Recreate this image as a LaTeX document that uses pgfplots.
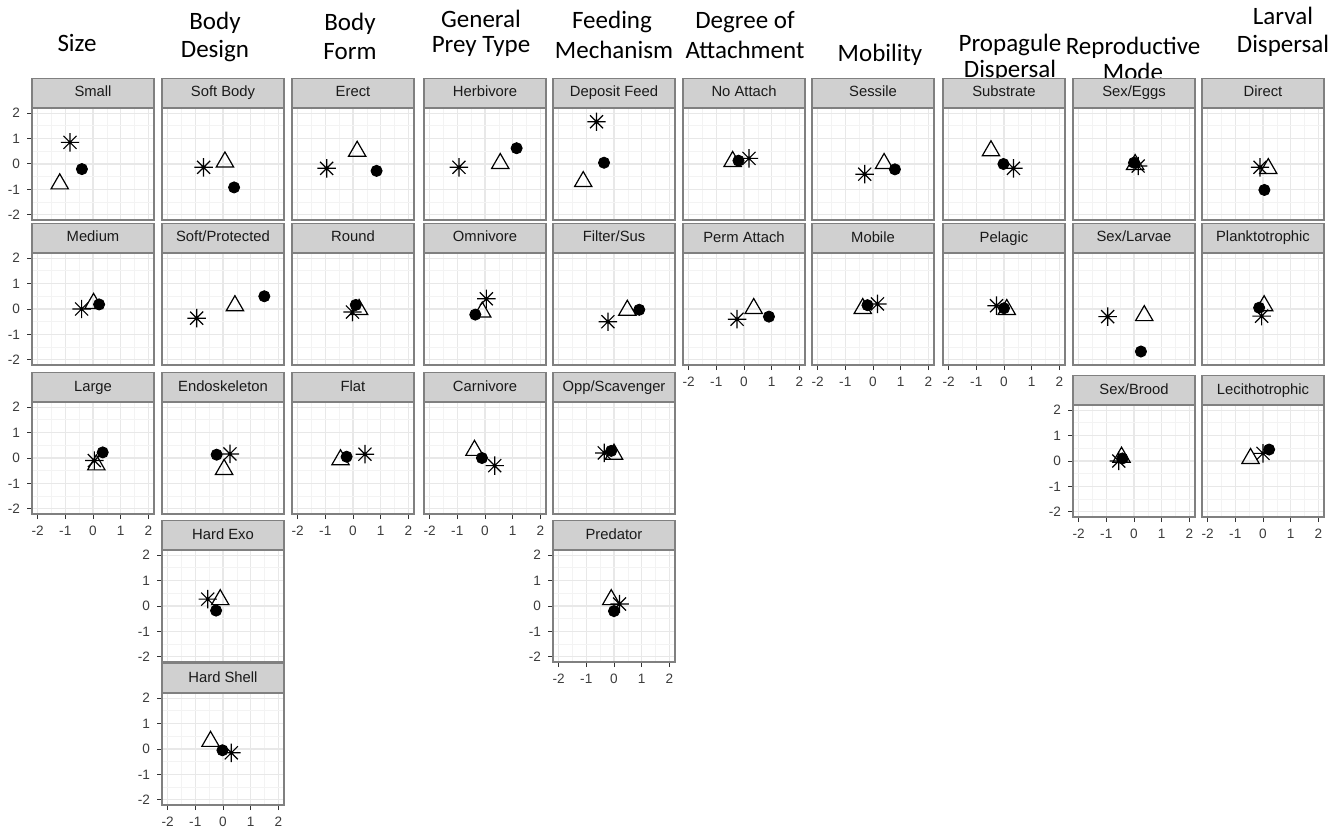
\documentclass[border=0pt]{standalone}
\usepackage{pgfplots}
\pgfplotsset{compat=1.18}
\usepackage{fontspec}
\setmainfont{Liberation Sans}
\newfontfamily\calib{Carlito}
\definecolor{gridmaj}{RGB}{232,232,232}
\definecolor{gridmin}{RGB}{243,243,243}
\definecolor{bord}{RGB}{128,128,128}
\definecolor{stripfill}{RGB}{208,208,208}
\definecolor{striptext}{RGB}{26,26,26}
\definecolor{tickc}{RGB}{51,51,51}
\definecolor{ticklab}{RGB}{60,60,60}

\pgfdeclareplotmark{ast8}{%
  \pgfpathmoveto{\pgfqpoint{-\pgfplotmarksize}{0pt}}\pgfpathlineto{\pgfqpoint{\pgfplotmarksize}{0pt}}%
  \pgfpathmoveto{\pgfqpoint{0pt}{-\pgfplotmarksize}}\pgfpathlineto{\pgfqpoint{0pt}{\pgfplotmarksize}}%
  \pgfpathmoveto{\pgfqpointpolar{45}{\pgfplotmarksize}}\pgfpathlineto{\pgfqpointpolar{225}{\pgfplotmarksize}}%
  \pgfpathmoveto{\pgfqpointpolar{135}{\pgfplotmarksize}}\pgfpathlineto{\pgfqpointpolar{315}{\pgfplotmarksize}}%
  \pgfusepathqstroke}

\pgfplotsset{
  panel/.style={
    anchor=north west, scale only axis, width=61pt, height=56pt,
    xmin=-2.2, xmax=2.2, ymin=-2.2, ymax=2.2,
    xtick={-2,-1,0,1,2}, ytick={-2,-1,0,1,2},
    minor xtick={-1.5,-0.5,0.5,1.5}, minor ytick={-1.5,-0.5,0.5,1.5},
    grid=both,
    major grid style={draw=gridmaj, line width=0.55pt},
    minor grid style={draw=gridmin, line width=0.35pt},
    axis line style={draw=bord, line width=0.6pt},
    xticklabels={}, yticklabels={},
    major tick length=2.5pt, minor tick length=0pt,
    tick align=outside, xtick pos=bottom, ytick pos=left,
    xtick style={draw=none}, ytick style={draw=none},
    tick label style={font=\fontsize{6.8}{7}\selectfont, text=ticklab},
    every axis title/.style={at={(0.5,1)}, anchor=south, draw=bord, fill=stripfill,
      line width=0.6pt, minimum width=61pt, minimum height=14.3pt, inner sep=0pt,
      text height=5.4pt, text depth=1.5pt,
      font=\fontsize{7.4}{8}\selectfont, text=striptext},
  },
  xlab/.style={xticklabels={-2,-1,0,1,2}, xtick style={draw=tickc, line width=0.5pt}},
  ylab/.style={yticklabels={-2,-1,0,1,2}, ytick style={draw=tickc, line width=0.5pt}},
}

\newcommand{\panel}[7]{%
  \begin{axis}[panel, at={({#1*0.5pt},{(837-#2)*0.5pt})}, title={#3}, #4]
  \addplot[black, only marks, mark=triangle, mark size=5pt, mark options={line width=0.6pt, draw=black, fill=none}] coordinates {#6};
  \addplot[black, only marks, mark=*, mark size=2.8pt, mark options={draw=black, fill=black}] coordinates {#7};
  \addplot[black, only marks, mark=ast8, mark size=4.6pt, mark options={line width=0.6pt, draw=black}] coordinates {#5};
  \end{axis}}

\newcommand{\ttl}[3]{\node[font=\calib\fontsize{12.5}{14}\selectfont, anchor=center, inner sep=0pt] at ({#1*0.5pt},{(837-#2)*0.5pt}) {#3};}

\begin{document}
\begin{tikzpicture}
\useasboundingbox (0,0) rectangle (672pt,418.5pt);

% column titles (one node per line)
\ttl{77}{43}{Size}
\ttl{215}{23}{Body}
\ttl{215}{51}{Design}
\ttl{350}{24}{Body}
\ttl{350}{52}{Form}
\ttl{481}{19}{General}
\ttl{481}{46}{Prey Type}
\ttl{612}{22}{Feeding}
\ttl{614}{50}{Mechanism}
\ttl{745}{22}{Degree of}
\ttl{745}{50}{Attachment}
\ttl{880}{55}{Mobility}
\ttl{1010}{45}{Propagule}
\ttl{1010}{71}{Dispersal}
\ttl{1133}{48}{Reproductive}
\ttl{1133}{72}{Mode}
\ttl{1283}{16}{Larval}
\ttl{1283}{46}{Dispersal}

% Column 1: Size
\panel{32}{108}{Small}{ylab}{(-0.83,0.85)}{(-1.2,-0.78)}{(-0.4,-0.2)}
\panel{32}{253}{Medium}{ylab}{(-0.41,0.0)}{(0.02,0.22)}{(0.22,0.18)}
\panel{32}{402}{Large}{ylab,xlab}{(0.05,-0.1)}{(0.12,-0.27)}{(0.35,0.22)}

% Column 2: Body Design
\panel{162}{108}{Soft Body}{}{(-0.7,-0.13)}{(0.07,0.08)}{(0.4,-0.92)}
\panel{162}{253}{Soft/Protected}{}{(-0.95,-0.36)}{(0.43,0.13)}{(1.49,0.5)}
\panel{162}{402}{Endoskeleton}{}{(0.25,0.16)}{(0.04,-0.45)}{(-0.23,0.13)}
\panel{162}{550}{Hard Exo}{ylab}{(-0.55,0.27)}{(-0.1,0.25)}{(-0.25,-0.18)}
\panel{162}{693}{Hard Shell}{ylab,xlab}{(0.3,-0.15)}{(-0.45,0.3)}{(-0.02,-0.05)}

% Column 3: Body Form
\panel{292}{108}{Erect}{}{(-0.95,-0.17)}{(0.15,0.5)}{(0.85,-0.27)}
\panel{292}{253}{Round}{}{(-0.02,-0.12)}{(0.22,-0.02)}{(0.1,0.16)}
\panel{292}{402}{Flat}{xlab}{(0.43,0.15)}{(-0.45,-0.07)}{(-0.23,0.05)}

% Column 4: General Prey Type
\panel{424}{108}{Herbivore}{}{(-0.94,-0.13)}{(0.55,0.02)}{(1.14,0.62)}
\panel{424}{253}{Omnivore}{}{(0.05,0.4)}{(-0.1,-0.12)}{(-0.35,-0.22)}
\panel{424}{402}{Carnivore}{xlab}{(0.35,-0.3)}{(-0.38,0.3)}{(-0.11,0.0)}

% Column 5: Feeding Mechanism
\panel{553}{108}{Deposit Feed}{}{(-0.63,1.66)}{(-1.11,-0.69)}{(-0.36,0.05)}
\panel{553}{253}{Filter/Sus}{}{(-0.22,-0.5)}{(0.48,-0.05)}{(0.91,-0.03)}
\panel{553}{402}{Opp/Scavenger}{}{(-0.35,0.2)}{(0.0,0.15)}{(-0.1,0.28)}
\panel{553}{550}{Predator}{ylab,xlab}{(0.2,0.08)}{(-0.1,0.25)}{(0.0,-0.2)}

% Column 6: Degree of Attachment
\panel{683}{108}{No Attach}{}{(0.18,0.22)}{(-0.41,0.1)}{(-0.2,0.13)}
\panel{683}{253}{Perm Attach}{xlab}{(-0.25,-0.4)}{(0.35,0.02)}{(0.9,-0.3)}

% Column 7: Mobility
\panel{812}{108}{Sessile}{}{(-0.3,-0.4)}{(0.4,0.02)}{(0.79,-0.21)}
\panel{812}{253}{Mobile}{xlab}{(0.16,0.2)}{(-0.37,0.02)}{(-0.2,0.15)}

% Column 8: Propagule Dispersal
\panel{943}{108}{Substrate}{}{(0.34,-0.17)}{(-0.47,0.52)}{(-0.02,0.0)}
\panel{943}{253}{Pelagic}{xlab}{(-0.27,0.13)}{(0.1,-0.02)}{(0.0,0.03)}

% Column 9: Reproductive Mode
\panel{1073}{108}{Sex/Eggs}{}{(0.15,-0.08)}{(0.04,-0.02)}{(0.0,0.05)}
\panel{1073}{253}{Sex/Larvae}{}{(-0.95,-0.3)}{(0.37,-0.26)}{(0.25,-1.67)}
\panel{1073}{405}{Sex/Brood}{ylab,xlab}{(-0.55,0.0)}{(-0.45,0.15)}{(-0.42,0.1)}

% Column 10: Larval Dispersal
\panel{1202}{108}{Direct}{}{(-0.11,-0.13)}{(0.19,-0.18)}{(0.05,-1.02)}
\panel{1202}{253}{Planktotrophic}{}{(-0.05,-0.28)}{(0.04,0.13)}{(-0.14,0.05)}
\panel{1202}{405}{Lecithotrophic}{xlab}{(0.0,0.3)}{(-0.45,0.1)}{(0.22,0.45)}

\end{tikzpicture}
\end{document}
